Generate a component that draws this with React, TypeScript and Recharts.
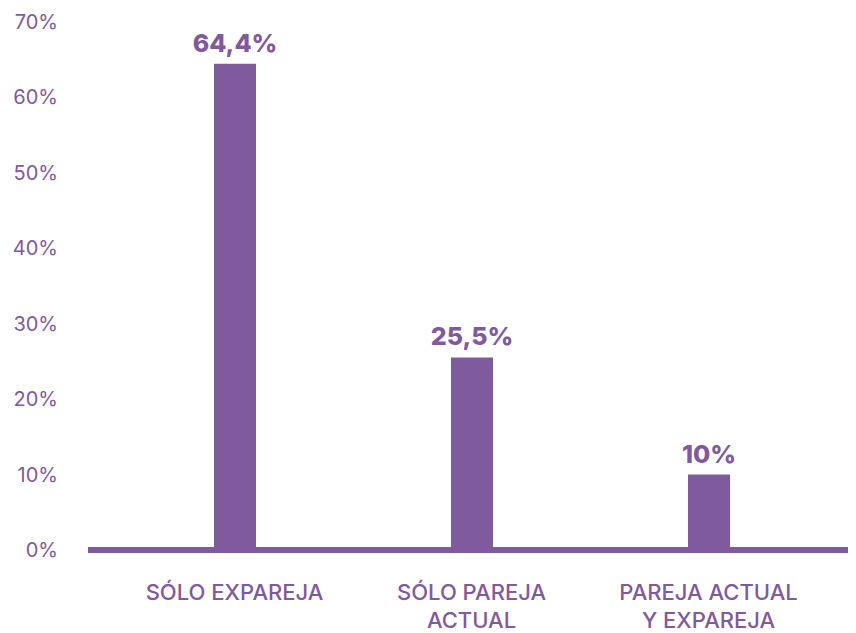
import { BarChart, Bar, XAxis, YAxis, LabelList } from 'recharts'

const PURPLE = '#7f5a9c'

const categories = ['SÓLO EXPAREJA', 'SÓLO PAREJA\nACTUAL', 'PAREJA ACTUAL\nY EXPAREJA']
const values = [64.4, 25.5, 10]
const valueLabels = ['64,4%', '25,5%', '10%']
const yTicks = [0, 10, 20, 30, 40, 50, 60, 70]

const data = categories.map((name, i) => ({ name, value: values[i], label: valueLabels[i] }))

function CategoryTick({ x, y, payload }: any) {
  const lines = String(payload.value).split('\n')
  return (
    <text x={x} y={y} textAnchor="middle" fill={PURPLE} fontSize={22} fontWeight={500} fontFamily="Inter">
      {lines.map((line, i) => (
        <tspan key={i} x={x} dy={i === 0 ? 50 : 28}>
          {line}
        </tspan>
      ))}
    </text>
  )
}

export default function App() {
  return (
    <div style={{ width: 848, height: 625, fontFamily: 'Inter' }}>
      <BarChart width={848} height={625} data={data} margin={{ top: 13.5, right: 0, bottom: 0, left: 0 }}>
        <XAxis
          dataKey="name"
          height={83}
          interval={0}
          tickLine={false}
          tickSize={0}
          tickMargin={0}
          axisLine={{ stroke: PURPLE, strokeWidth: 6 }}
          padding={{ left: 28, right: 29 }}
          tick={<CategoryTick />}
        />
        <YAxis
          width={80}
          domain={[0, 70]}
          ticks={yTicks}
          axisLine={false}
          tickLine={false}
          tickSize={0}
          tickMargin={30}
          tickFormatter={(v: number) => `${v}%`}
          tick={{ fill: PURPLE, fontSize: 20, fontFamily: 'Inter' }}
        />
        <Bar dataKey="value" fill={PURPLE} barSize={42} isAnimationActive={false}>
          <LabelList
            dataKey="label"
            position="top"
            offset={12}
            fill={PURPLE}
            fontSize={25}
            fontWeight={800}
            fontFamily="Inter"
          />
        </Bar>
      </BarChart>
    </div>
  )
}
